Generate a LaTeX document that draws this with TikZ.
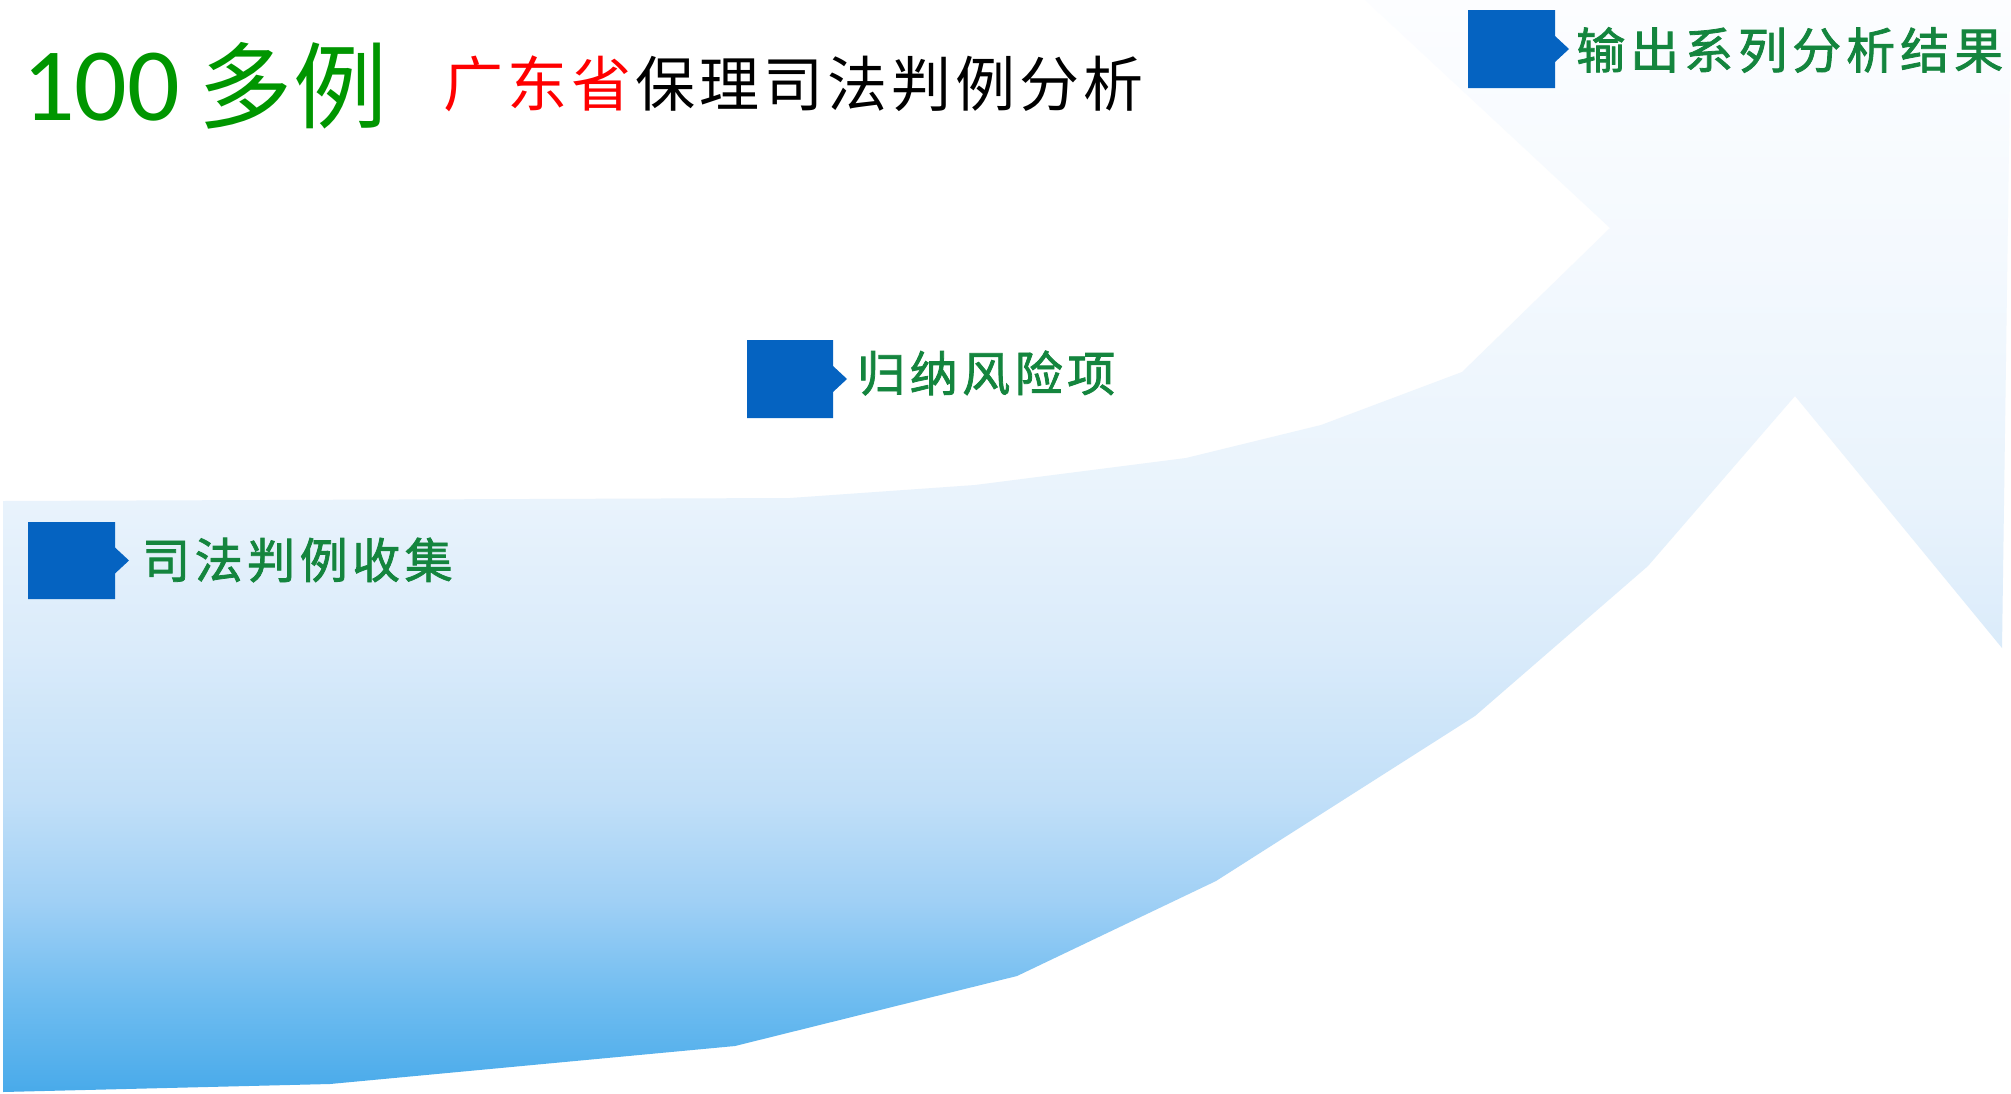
\documentclass[tikz,border=0pt]{standalone}
\usepackage{fontspec}
\newfontfamily\cjkf{Noto Sans CJK SC}
\newfontfamily\cjkb[FakeBold=1.6]{Noto Sans CJK SC}
\newfontfamily\numfont{Carlito}
\definecolor{markblue}{RGB}{5,99,193}
\definecolor{lblgreen}{RGB}{20,133,62}
\definecolor{titlegreen}{RGB}{0,150,0}
\definecolor{titlered}{RGB}{255,0,0}
\definecolor{cA}{RGB}{72,170,234}
\definecolor{cB}{RGB}{110,188,240}
\definecolor{cC}{RGB}{160,208,245}
\definecolor{cD}{RGB}{193,223,248}
\definecolor{cE}{RGB}{218,235,250}
\definecolor{cF}{RGB}{233,243,252}
\definecolor{cG}{RGB}{244,249,254}
\definecolor{cH}{RGB}{252,253,255}
\pgfdeclareverticalshading{arrowfill}{100bp}{color(0bp)=(cA); color(25bp)=(cA); color(29.25bp)=(cB); color(33.83bp)=(cC); color(38.4bp)=(cD); color(45.27bp)=(cE); color(52.13bp)=(cF); color(63.56bp)=(cG); color(75bp)=(cH); color(100bp)=(cH)}
\makeatletter
\newcommand\trk[2]{\@tfor\tk:=#2\do{\tk\kern#1}\unkern}
\makeatother
\begin{document}
\begin{tikzpicture}[x=1pt,y=-1pt,
  bluemark/.style={fill=markblue},
  lbl/.style={anchor=west,inner sep=0pt,text=lblgreen,font={\cjkb\fontsize{48}{50}\selectfont}}]
\useasboundingbox (0,0) rectangle (2011,1093);
\fill[white] (0,0) rectangle (2011,1093);
% big curved arrow
\begin{scope}
\clip (3,1092) -- (330,1084) -- (735,1046) -- (1017,976) -- (1216,881) -- (1475,716)
  -- (1648,566) -- (1795,396) -- (2002,648) -- (2011,0) -- (1365,0) -- (1610,228)
  -- (1462,372) -- (1321,425) -- (1186,458) -- (975,485) -- (790,498) -- (3,501) -- cycle;
\shade[shading=arrowfill] (0,0) rectangle (2011,1093);
\end{scope}
% markers
\foreach \xa/\ya/\xb/\yb in {28/522/115/599, 747/340/833/418, 1468/10/1555/88}{
  \fill[bluemark] (\xa,\ya) -- (\xb,\ya) -- (\xb,{(\ya+\yb)/2-13}) -- ({\xb+14},{(\ya+\yb)/2})
    -- (\xb,{(\ya+\yb)/2+13}) -- (\xb,\yb) -- (\xa,\yb) -- cycle;
}
% labels
\node[lbl] (l1) at (142,560) {\trk{4.5pt}{司法判例收集}};
\node[lbl] (l2) at (857,373) {\trk{4.5pt}{归纳风险项}};
\node[lbl,font={\cjkb\fontsize{49}{51}\selectfont}] (l3) at (1576,50) {\trk{5pt}{输出系列分析结果}};
% title
\node[anchor=base west,inner sep=0pt,text=titlegreen,font={\numfont\fontsize{104}{110}\selectfont}] (n100) at (22,120) {100};
\node[anchor=west,inner sep=0pt,text=titlegreen,font={\cjkf\fontsize{94}{96}\selectfont}] (duoli) at (198,86) {\trk{1pt}{多例}};
\node[anchor=west,inner sep=0pt,font={\cjkf\fontsize{60}{62}\selectfont}] (title) at (443,84) {{\color{titlered}\trk{4pt}{广东省}}\kern4pt\trk{4pt}{保理司法判例分析}};
\end{tikzpicture}
\end{document}
